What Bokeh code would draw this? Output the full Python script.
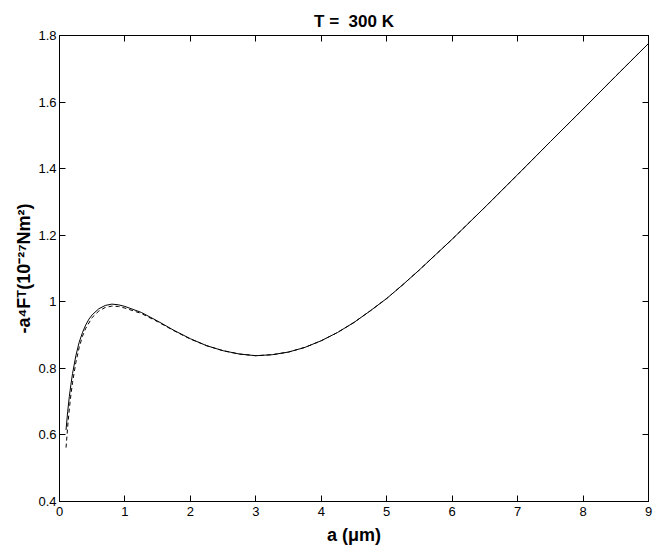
from bokeh.plotting import figure
from bokeh.models import LinearAxis, Range1d, FixedTicker
from bokeh.embed import file_html
from bokeh.resources import INLINE

# --- data ---
a_solid = [0.10, 0.125, 0.15, 0.175, 0.20, 0.25, 0.30, 0.35, 0.40, 0.45, 0.50,
           0.60, 0.70, 0.80, 0.90, 1.00, 1.25, 1.50, 1.75, 2.00, 2.25, 2.50,
           2.75, 3.00, 3.25, 3.50, 3.75, 4.00, 4.25, 4.50, 4.75, 5.00, 5.25,
           5.50, 5.75, 6.00, 6.50, 7.00, 7.50, 8.00, 8.50, 9.00]
F_solid = [0.615, 0.670, 0.715, 0.752, 0.785, 0.838, 0.878, 0.907, 0.930, 0.948, 0.961,
           0.979, 0.989, 0.993, 0.991, 0.986, 0.968, 0.942, 0.914, 0.889, 0.868, 0.853,
           0.843, 0.838, 0.841, 0.849, 0.863, 0.883, 0.908, 0.938, 0.973, 1.010, 1.052,
           1.096, 1.142, 1.188, 1.284, 1.382, 1.481, 1.579, 1.678, 1.776]

a_dash = [0.10, 0.125, 0.15, 0.175, 0.20, 0.25, 0.30, 0.35, 0.40, 0.50, 0.60,
          0.70, 0.80, 0.90, 1.00, 1.25, 1.50, 1.75, 2.00, 2.25, 2.50, 2.75,
          3.00, 3.25, 3.50, 3.75, 4.00, 4.25, 4.50, 4.75, 5.00, 5.25, 5.50,
          5.75, 6.00, 6.50, 7.00, 7.50, 8.00, 8.50, 9.00]
F_dash = [0.562, 0.625, 0.678, 0.722, 0.758, 0.818, 0.862, 0.896, 0.920, 0.953, 0.972,
          0.983, 0.987, 0.986, 0.981, 0.965, 0.940, 0.913, 0.888, 0.868, 0.853, 0.843,
          0.838, 0.841, 0.849, 0.863, 0.883, 0.908, 0.938, 0.973, 1.010, 1.052, 1.096,
          1.142, 1.188, 1.284, 1.382, 1.481, 1.579, 1.678, 1.776]

x_ticks = [0, 1, 2, 3, 4, 5, 6, 7, 8, 9]
y_ticks = [0.4, 0.6, 0.8, 1.0, 1.2, 1.4, 1.6, 1.8]
y_tick_labels = {0.4: "0.4", 0.6: "0.6", 0.8: "0.8", 1.0: "1", 1.2: "1.2",
                 1.4: "1.4", 1.6: "1.6", 1.8: "1.8"}

FONT = "Liberation Sans"

p = figure(frame_width=589, frame_height=466,
           x_range=Range1d(0, 9), y_range=Range1d(0.4, 1.8),
           output_backend="svg", toolbar_location=None,
           min_border_left=59, min_border_right=9, min_border_top=35,
           min_border_bottom=44, title="T =\u00a0 300 K")
p.background_fill_color = "white"
p.border_fill_color = "white"
p.outline_line_color = "black"
p.xgrid.visible = False
p.ygrid.visible = False

p.title.align = "center"
p.title.text_font = FONT
p.title.text_font_size = "17px"
p.title.text_font_style = "bold"
p.title.text_color = "black"
p.title.standoff = 9

def style_axis(ax, show_labels=True):
    ax.axis_line_color = "black"
    ax.axis_line_width = 1
    ax.major_tick_in = 6
    ax.major_tick_out = 0
    ax.minor_tick_line_color = None
    ax.major_tick_line_color = "black"
    ax.major_label_text_font = FONT
    if show_labels:
        ax.major_label_text_font_size = "13px"
        ax.major_label_text_color = "black"
    else:
        ax.major_label_text_font_size = "1px"
        ax.major_label_text_color = None

xa = p.xaxis[0]
ya = p.yaxis[0]
xa.ticker = FixedTicker(ticks=x_ticks)
ya.ticker = FixedTicker(ticks=y_ticks)
ya.major_label_overrides = y_tick_labels
style_axis(xa)
style_axis(ya)
xa.major_label_standoff = 5
ya.major_label_standoff = 3

xa.axis_label = "a (\u03bcm)"
ya.axis_label = "-a\u2074F\u1d40(10\u207b\u00b2\u2077Nm\u00b2)"
for ax in (xa, ya):
    ax.axis_label_text_font = FONT
    ax.axis_label_text_font_size = "18px"
    ax.axis_label_text_font_style = "bold"
    ax.axis_label_text_color = "black"
xa.axis_label_standoff = 6
ya.axis_label_standoff = 1

top = LinearAxis(ticker=FixedTicker(ticks=x_ticks))
right = LinearAxis(ticker=FixedTicker(ticks=y_ticks))
style_axis(top, False)
style_axis(right, False)
top.major_label_standoff = 0
right.major_label_standoff = 0
p.add_layout(top, "above")
p.add_layout(right, "right")

p.line(a_dash, F_dash, line_color="black", line_width=1, line_dash="4 3")
p.line(a_solid, F_solid, line_color="black", line_width=1)

open("out.html", "w").write(file_html(p, INLINE))
